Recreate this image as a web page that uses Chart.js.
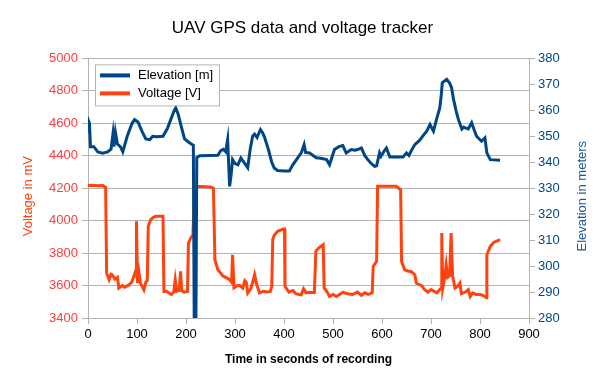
<!DOCTYPE html>
<html lang="en">
<head>
<meta charset="UTF-8">
<title>UAV GPS data and voltage tracker</title>
<script src="https://cdn.jsdelivr.net/npm/chart.js"></script>
<style>
  html, body { margin: 0; padding: 0; background: #fff; }
  #wrap { width: 605px; height: 387px; }
</style>
</head>
<body>
<div id="wrap"><canvas id="grafico" width="605" height="387"></canvas></div>
<script>
// elevation trace (seconds, metres)
const elevTime = [0, 1, 3, 5, 12, 20, 30, 40, 47, 51, 53, 56, 60, 66, 71, 80, 90, 95, 102, 110, 118, 126, 132, 140, 153, 162, 170, 176, 179, 184, 190, 197, 207, 215, 217, 220, 222, 228, 250, 265, 271, 276, 281, 285, 289, 292, 295, 300, 306, 312, 318, 326, 331, 336, 340, 345, 352, 356, 360, 368, 375, 380, 387, 400, 411, 418, 428, 435, 441, 444, 452, 460, 466, 475, 487, 493, 498, 503, 512, 520, 527, 537, 545, 550, 558, 565, 571, 578, 585, 589, 595, 598, 605, 609, 616, 643, 650, 655, 660, 667, 677, 687, 691, 698, 705, 712, 718, 721, 723, 732, 738, 742, 746, 751, 756, 763, 767, 770, 776, 783, 788, 793, 803, 810, 814, 821, 841];
const elevation = [352, 356, 355, 346, 346, 344, 343.5, 344, 345, 351, 346, 351.5, 347, 346, 344, 350, 355, 356.4, 355.5, 352, 349, 348.7, 350, 349.8, 350, 353, 357, 360, 361, 358.5, 354, 349, 347.5, 346.5, 270, 270, 341.8, 342.5, 342.6, 342.7, 344.5, 345, 344, 348.7, 330.7, 335, 341, 339.5, 339, 341.6, 340, 337.9, 345, 350, 350.8, 349.5, 352.6, 351.5, 349.8, 345, 340, 337.8, 336.8, 336.6, 336.6, 339, 341.7, 343.5, 346.8, 343.8, 343.6, 342.5, 341.7, 341.5, 341, 339, 342, 344.9, 346, 346.4, 343.6, 344.9, 344.6, 344.9, 345.5, 342.5, 341, 339.5, 338.4, 338.6, 343.6, 342.3, 344.5, 345.5, 342, 342, 343.6, 342.6, 344.5, 346.8, 348.5, 351, 351.9, 354.5, 352, 357, 361, 366, 370.6, 371.9, 370.5, 368.7, 364.2, 360, 356.4, 352.8, 353.5, 353.2, 352.8, 355.2, 352.5, 350, 348.1, 349.4, 343.6, 341, 340.8];

// voltage trace (seconds, millivolts)
const voltTime = [0, 10, 20, 30, 36, 38, 43, 47, 50, 55, 60, 63, 70, 75, 84, 90, 96, 98, 99, 101, 104, 107, 114, 118, 121, 123, 128, 133, 138, 153, 155, 160, 165, 170, 175, 178, 181, 186, 189, 191, 196, 203, 205, 210, 214, 218, 230, 250, 256, 259, 265, 270, 275, 281, 289, 293, 295, 298, 305, 310, 316, 320, 323, 326, 332, 336, 340, 344, 350, 358, 366, 372, 375, 377, 380, 387, 399, 401, 402, 410, 418, 424, 431, 435, 440, 445, 452, 462, 465, 470, 480, 482, 488, 493, 500, 507, 515, 520, 530, 540, 550, 558, 565, 572, 580, 582, 589, 591, 629, 638, 640, 646, 652, 660, 667, 670, 676, 681, 687, 694, 700, 712, 718, 721, 722, 724, 728, 731, 734, 738, 741, 744, 749, 754, 759, 762, 770, 776, 780, 785, 792, 800, 806, 810, 813, 814, 821, 828, 841];
const voltage = [4216, 4218, 4215, 4216, 4205, 3677, 3636, 3670, 3665, 3640, 3650, 3585, 3600, 3590, 3605, 3625, 3679, 3660, 3996, 3616, 3680, 3616, 3574, 3620, 3630, 3965, 4006, 4020, 4027, 4027, 3564, 3565, 3555, 3545, 3560, 3636, 3565, 3570, 3687, 3570, 3560, 3564, 3862, 3895, 3910, 4212, 4210, 4208, 4200, 3759, 3698, 3680, 3660, 3650, 3636, 3620, 3790, 3586, 3600, 3600, 3585, 3630, 3620, 3554, 3580, 3620, 3667, 3610, 3554, 3565, 3560, 3564, 3595, 3883, 3910, 3934, 3949, 3949, 3595, 3560, 3570, 3550, 3545, 3543, 3580, 3555, 3558, 3556, 3811, 3830, 3852, 3585, 3560, 3533, 3545, 3533, 3548, 3558, 3550, 3545, 3560, 3540, 3555, 3545, 3555, 3718, 3749, 4212, 4212, 4190, 3749, 3698, 3690, 3685, 3667, 3616, 3605, 3599, 3575, 3560, 3575, 3555, 3575, 3585, 3924, 3585, 3650, 3728, 3650, 3660, 3924, 3660, 3585, 3595, 3616, 3550, 3560, 3575, 3533, 3555, 3545, 3545, 3540, 3533, 3525, 3790, 3842, 3866, 3883];

const seriesNames = ['Elevation [m]', 'Voltage [V]'];
const titleText = 'UAV GPS data and voltage tracker';
const xTitle = 'Time in seconds of recording';
const yLeftTitle = 'Voltage in mV';
const yRightTitle = 'Elevation in meters';

const BLUE = '#004586';
const ORANGE = '#ff420e';
const GRID = '#b3b3b3';
const FONT = "'Liberation Sans', Arial, sans-serif";

// legend inside the plot area and both y titles reading bottom-to-top
const extras = {
    id: 'extras',
    afterDatasetsDraw(chart) {
        const ctx = chart.ctx;
        const a = chart.chartArea;
        const x = a.left + 7, y = a.top + 6, w = 124, h = 41;
        ctx.save();
        ctx.fillStyle = '#fff';
        ctx.fillRect(x, y, w, h);
        ctx.strokeStyle = GRID;
        ctx.lineWidth = 1;
        ctx.strokeRect(x + 0.5, y + 0.5, w, h);
        ctx.font = '13px ' + FONT;
        ctx.textBaseline = 'middle';
        chart.data.datasets.forEach((ds, i) => {
            const ly = y + 11 + i * 18;
            ctx.strokeStyle = ds.borderColor;
            ctx.lineWidth = 4;
            ctx.beginPath();
            ctx.moveTo(x + 5, ly);
            ctx.lineTo(x + 35, ly);
            ctx.stroke();
            ctx.fillStyle = '#000';
            ctx.fillText(ds.label, x + 43, ly);
        });

        const cy = (a.top + a.bottom) / 2 + 8;
        ctx.textAlign = 'center';
        [[yLeftTitle, 28, ORANGE], [yRightTitle, 582, '#1c5a96']].forEach(([txt, tx, col]) => {
            ctx.save();
            ctx.translate(tx, cy);
            ctx.rotate(-Math.PI / 2);
            ctx.fillStyle = col;
            ctx.fillText(txt, 0, 0);
            ctx.restore();
        });
        ctx.restore();
    }
};

const ctx = document.getElementById('grafico').getContext('2d');
new Chart(ctx, {
    type: 'line',
    data: {
        datasets: [{
            label: seriesNames[0],
            data: elevTime.map((t, i) => ({ x: t, y: elevation[i] })),
            yAxisID: 'y1',
            borderColor: BLUE,
            borderWidth: 3,
            pointRadius: 0,
            tension: 0
        }, {
            label: seriesNames[1],
            data: voltTime.map((t, i) => ({ x: t, y: voltage[i] })),
            yAxisID: 'y',
            borderColor: ORANGE,
            borderWidth: 3,
            pointRadius: 0,
            tension: 0
        }]
    },
    options: {
        responsive: false,
        animation: false,
        layout: { padding: 0 },
        plugins: {
            legend: { display: false },
            tooltip: { enabled: false },
            title: {
                display: true,
                text: titleText,
                color: '#000',
                font: { family: FONT, size: 17, weight: 'normal' },
                padding: { top: 18, bottom: 20 }
            }
        },
        scales: {
            x: {
                type: 'linear',
                min: 0,
                max: 900,
                afterFit: s => { s.height = 69; },
                ticks: { stepSize: 100, color: '#000', padding: 3, maxRotation: 0, font: { family: FONT, size: 13 } },
                grid: { drawOnChartArea: false, drawTicks: true, tickLength: 6, color: GRID },
                border: { color: GRID },
                title: {
                    display: true,
                    text: xTitle,
                    color: '#000',
                    font: { family: FONT, size: 12, weight: 'bold' },
                    padding: { top: 0, bottom: 20 }
                }
            },
            y: {
                position: 'left',
                min: 3400,
                max: 5000,
                afterFit: s => { s.width = 88; },
                ticks: { stepSize: 200, color: '#ff3b3b', padding: 4, font: { family: FONT, size: 13 }, callback: v => String(v) },
                grid: { color: GRID, tickLength: 6 },
                border: { color: GRID }
            },
            y1: {
                position: 'right',
                min: 280,
                max: 380,
                afterFit: s => { s.width = 76; },
                ticks: { stepSize: 10, color: BLUE, padding: 3, font: { family: FONT, size: 13 }, callback: v => String(v) },
                grid: { drawOnChartArea: false, color: GRID, tickLength: 6 },
                border: { color: GRID }
            }
        }
    },
    plugins: [extras]
});
</script>
</body>
</html>
